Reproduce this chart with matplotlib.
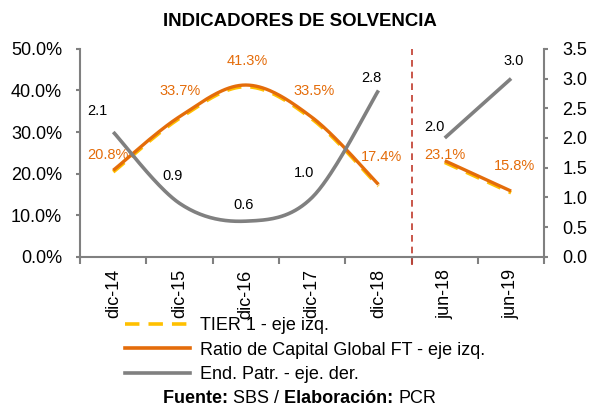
import numpy as np
import matplotlib
matplotlib.use('Agg')
import matplotlib.pyplot as plt
from matplotlib.lines import Line2D
from matplotlib.ticker import FuncFormatter, FixedLocator

plt.rcParams['font.family'] = ['Liberation Sans', 'DejaVu Sans']

# datos
categorias = ['dic-14', 'dic-15', 'dic-16', 'dic-17', 'dic-18', 'jun-18', 'jun-19']
ratio_global = [20.8, 33.7, 41.3, 33.5, 17.4, 23.1, 15.8]
tier1 = [20.4, 33.3, 40.9, 33.1, 17.0, 22.7, 15.4]
end_patr = [2.1, 0.9, 0.6, 1.0, 2.8, 2.0, 3.0]
tramos = [(0, 5), (5, 7)]

# desplazamiento de etiquetas (pixeles)
off_ratio = [(-5, 15), (1, 26), (1, 24), (2, 26), (3, 27), (0, 6), (3, 25)]
off_patr = [(-16, 21), (-7, 27), (-2, 16), (-8, 24), (-7, 12), (-10, 11), (3, 18)]

NARANJA = '#E46C0A'
AMARILLO = '#FFC000'
GRIS = '#808080'


def suavizar(x, y, n=40):
    # curva suavizada tipo Excel (bezier Catmull-Rom)
    x = np.asarray(x, float)
    y = np.asarray(y, float)
    if len(x) < 3:
        return x, y
    px = np.r_[x[0], x, x[-1]]
    py = np.r_[y[0], y, y[-1]]
    t = np.linspace(0, 1, n)
    ox, oy = [], []
    for i in range(len(x) - 1):
        for p, o in ((px, ox), (py, oy)):
            p0, p1, p2, p3 = p[i], p[i + 1], p[i + 2], p[i + 3]
            b1 = p1 + (p2 - p0) / 6
            b2 = p2 - (p3 - p1) / 6
            o.extend((1 - t) ** 3 * p1 + 3 * (1 - t) ** 2 * t * b1 + 3 * (1 - t) * t ** 2 * b2 + t ** 3 * p2)
    return np.array(ox), np.array(oy)


fig = plt.figure(figsize=(5.89, 4.07), dpi=100)
ax = fig.add_axes([0.136, 0.369, 0.788, 0.511])
ax2 = ax.twinx()

x = np.arange(len(categorias))
for a, b in tramos:
    sx, sy = suavizar(x[a:b], tier1[a:b])
    ax.plot(sx, sy, color=AMARILLO, lw=2.6, ls=(0, (4, 2.5)), solid_capstyle='butt')
    sx, sy = suavizar(x[a:b], ratio_global[a:b])
    ax.plot(sx, sy, color=NARANJA, lw=2.4, solid_capstyle='butt')
    sx, sy = suavizar(x[a:b], end_patr[a:b])
    ax2.plot(sx, sy, color=GRIS, lw=2.6, solid_capstyle='butt')

for i, v in enumerate(ratio_global):
    ax.annotate(f'{v:.1f}%', (x[i], v), xytext=off_ratio[i], textcoords='offset pixels',
                ha='center', va='center', color=NARANJA, fontsize=10.5)
for i, v in enumerate(end_patr):
    ax2.annotate(f'{v:.1f}', (x[i], v), xytext=off_patr[i], textcoords='offset pixels',
                 ha='center', va='center', color='black', fontsize=10.5)

ax.axvline(4.5, ymin=-0.04, ymax=1.0, color='#C0392B', lw=1.2, ls=(0, (4, 3)), clip_on=False)

ax.set_xlim(-0.5, 6.5)
ax.set_ylim(0, 50)
ax2.set_ylim(0, 3.5)
ax.set_yticks(np.arange(0, 51, 10))
ax.yaxis.set_major_formatter(FuncFormatter(lambda v, p: f'{v:.1f}%'))
ax2.set_yticks(np.arange(0, 3.51, 0.5))
ax2.yaxis.set_major_formatter(FuncFormatter(lambda v, p: f'{v:.1f}'))

ax.set_xticks(x)
ax.set_xticklabels(categorias, rotation=90)
ax.xaxis.set_minor_locator(FixedLocator(np.arange(-0.5, 6.6, 1)))
ax.tick_params(axis='x', which='major', length=0, pad=9, labelsize=13)
ax.tick_params(axis='x', which='minor', length=5, width=1.5, color=GRIS)
ax.tick_params(axis='y', length=3, width=1.5, color=GRIS, labelsize=13, pad=10)
ax2.tick_params(axis='y', length=3, width=1.5, color=GRIS, labelsize=13, pad=10)

for a in (ax, ax2):
    a.spines['top'].set_visible(False)
    for s in ('left', 'right', 'bottom'):
        a.spines[s].set_color(GRIS)
        a.spines[s].set_linewidth(1.5)
ax.spines['right'].set_visible(False)
ax2.spines['left'].set_visible(False)
ax2.spines['bottom'].set_visible(False)

fig.text(0.509, 0.946, 'INDICADORES DE SOLVENCIA', ha='center', va='center',
         fontsize=13.4, fontweight='bold')

handles = [
    Line2D([], [], color=AMARILLO, lw=2.6, ls=(0, (4, 2.5))),
    Line2D([], [], color=NARANJA, lw=2.6),
    Line2D([], [], color=GRIS, lw=2.6),
]
etiquetas = ['TIER 1 - eje izq.', 'Ratio de Capital Global FT - eje izq.', 'End. Patr. - eje. der.']
fig.legend(handles, etiquetas, loc='upper left', bbox_to_anchor=(0.212, 0.221), frameon=False,
           fontsize=13, handlelength=3.6, handletextpad=0.55, labelspacing=0.42, borderpad=0,
           borderaxespad=0)

# pie: Fuente / Elaboracion con partes en negrita
fig.canvas.draw()
r = fig.canvas.get_renderer()
partes = [('Fuente: ', 'bold'), ('SBS / ', 'normal'), ('Elaboración: ', 'bold'), ('PCR', 'normal')]
objs = [fig.text(0, 0.022, s, fontsize=13, fontweight=w, va='center') for s, w in partes]
anchos = [o.get_window_extent(r).width for o in objs]
x0 = 0.509 * fig.bbox.width - sum(anchos) / 2
for o, w in zip(objs, anchos):
    o.set_x(x0 / fig.bbox.width)
    x0 += w

fig.savefig('out.png', dpi=100)
